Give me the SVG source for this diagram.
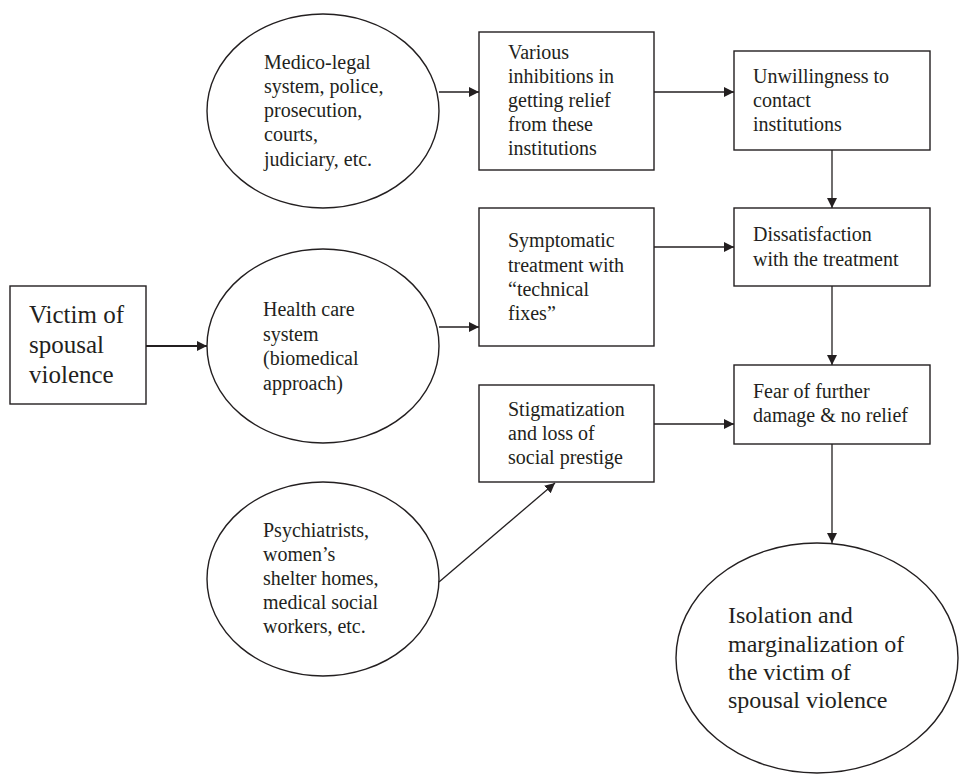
<svg xmlns="http://www.w3.org/2000/svg" width="959" height="774" viewBox="0 0 959 774">
<style>
.n{fill:#fff;stroke:#231f20;stroke-width:1.4}
.t{font-family:"Liberation Serif","Times New Roman",serif;font-size:20px;fill:#231f20}
.tl{font-family:"Liberation Serif","Times New Roman",serif;font-size:25px;fill:#231f20}
.c{fill:none;stroke:#231f20;stroke-width:1.3}
</style>
<defs>
<marker id="ah" markerWidth="10" markerHeight="10" refX="10" refY="5" orient="auto" markerUnits="userSpaceOnUse"><path d="M0,0 L10,5 L0,10 Z" fill="#231f20"/></marker>
</defs>
<rect width="959" height="774" fill="#fff"/>
<g id="victim"><rect class="n" x="10" y="286" width="136" height="118"/>
<text class="tl" x="29"><tspan x="29" y="323">Victim of</tspan><tspan x="29" y="353">spousal</tspan><tspan x="29" y="383">violence</tspan></text></g>
<g id="medicolegal"><ellipse class="n" cx="323" cy="111" rx="116" ry="97"/>
<text class="t"><tspan x="264" y="69">Medico-legal</tspan><tspan x="264" y="93">system, police,</tspan><tspan x="264" y="117">prosecution,</tspan><tspan x="264" y="141">courts,</tspan><tspan x="264" y="166">judiciary, etc.</tspan></text></g>
<g id="healthcare"><ellipse class="n" cx="323" cy="346" rx="116" ry="97"/>
<text class="t"><tspan x="263" y="316">Health care</tspan><tspan x="263" y="341">system</tspan><tspan x="263" y="365">(biomedical</tspan><tspan x="263" y="390">approach)</tspan></text></g>
<g id="psychiatrists"><ellipse class="n" cx="323" cy="579" rx="116" ry="97"/>
<text class="t"><tspan x="263" y="537">Psychiatrists,</tspan><tspan x="263" y="561">women’s</tspan><tspan x="263" y="585">shelter homes,</tspan><tspan x="263" y="609">medical social</tspan><tspan x="263" y="633">workers, etc.</tspan></text></g>
<g id="inhibitions"><rect class="n" x="479" y="32" width="175" height="138"/>
<text class="t"><tspan x="508" y="59">Various</tspan><tspan x="508" y="83">inhibitions in</tspan><tspan x="508" y="107">getting relief</tspan><tspan x="508" y="131">from these</tspan><tspan x="508" y="155">institutions</tspan></text></g>
<g id="symptomatic"><rect class="n" x="479" y="208" width="175" height="138"/>
<text class="t"><tspan x="508" y="247">Symptomatic</tspan><tspan x="508" y="272">treatment with</tspan><tspan x="508" y="296">“technical</tspan><tspan x="508" y="320">fixes”</tspan></text></g>
<g id="stigmatization"><rect class="n" x="479" y="385" width="175" height="97"/>
<text class="t"><tspan x="508" y="416">Stigmatization</tspan><tspan x="508" y="440">and loss of</tspan><tspan x="508" y="464">social prestige</tspan></text></g>
<g id="unwillingness"><rect class="n" x="734" y="51" width="196" height="99"/>
<text class="t"><tspan x="753" y="83">Unwillingness to</tspan><tspan x="753" y="107">contact</tspan><tspan x="753" y="131">institutions</tspan></text></g>
<g id="dissatisfaction"><rect class="n" x="734" y="208" width="196" height="78"/>
<text class="t"><tspan x="753" y="241">Dissatisfaction</tspan><tspan x="753" y="266">with the treatment</tspan></text></g>
<g id="fear"><rect class="n" x="734" y="365" width="196" height="79"/>
<text class="t"><tspan x="753" y="398">Fear of further</tspan><tspan x="753" y="422">damage &amp; no relief</tspan></text></g>
<g id="isolation"><ellipse class="n" cx="817" cy="658" rx="141" ry="115"/>
<text class="tl" style="font-size:24px"><tspan x="728" y="623">Isolation and</tspan><tspan x="728" y="652">marginalization of</tspan><tspan x="728" y="680">the victim of</tspan><tspan x="728" y="708">spousal violence</tspan></text></g>
<g id="connectors">
<line class="c" x1="146" y1="346" x2="207" y2="346" style="stroke-width:2" marker-end="url(#ah)"/>
<line class="c" x1="439" y1="92" x2="479" y2="92" marker-end="url(#ah)"/>
<line class="c" x1="439" y1="327" x2="479" y2="327" marker-end="url(#ah)"/>
<line class="c" x1="439" y1="582" x2="555" y2="483" marker-end="url(#ah)"/>
<line class="c" x1="654" y1="92" x2="734" y2="92" marker-end="url(#ah)"/>
<line class="c" x1="654" y1="247" x2="734" y2="247" marker-end="url(#ah)"/>
<line class="c" x1="654" y1="424" x2="734" y2="424" marker-end="url(#ah)"/>
<line class="c" x1="832" y1="150" x2="832" y2="208" marker-end="url(#ah)"/>
<line class="c" x1="832" y1="286" x2="832" y2="365" marker-end="url(#ah)"/>
<line class="c" x1="832" y1="444" x2="832" y2="543" marker-end="url(#ah)"/>
</g>
</svg>
